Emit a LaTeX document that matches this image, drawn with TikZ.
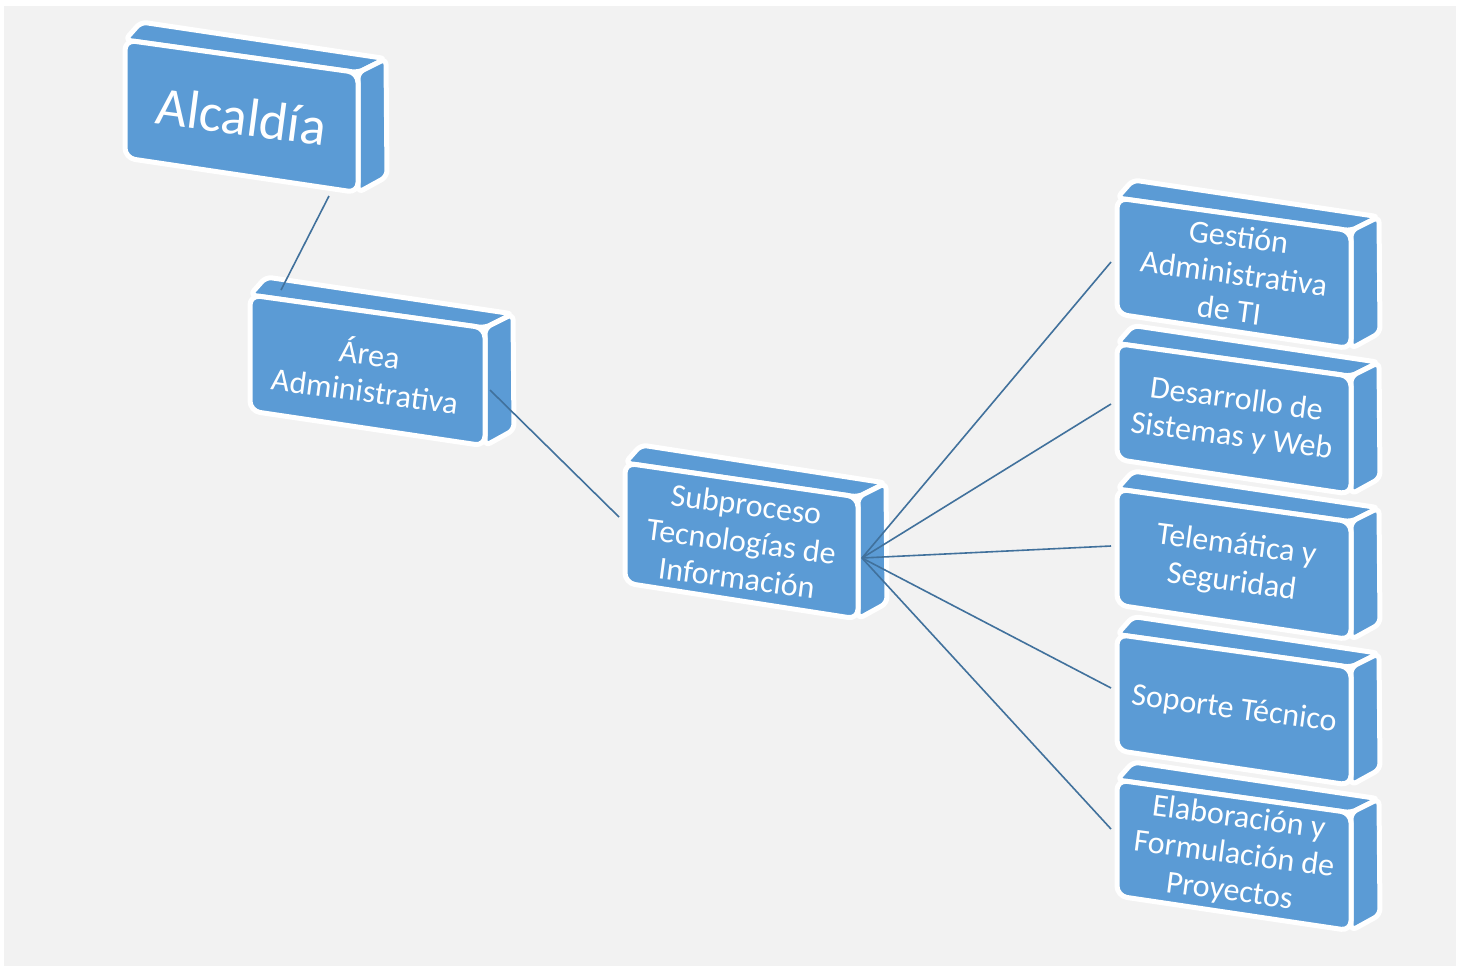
\documentclass[tikz,border=0pt]{standalone}
\usepackage{fontspec}
\setmainfont{Carlito}
\usetikzlibrary{calc}
\definecolor{boxblue}{HTML}{5B9BD5}
\definecolor{linkblue}{HTML}{41719C}
\definecolor{bggray}{HTML}{F2F2F2}
\tikzset{
  boxface/.style={fill=boxblue, draw=white, line width=5pt, rounded corners=6pt, line join=round},
  boxtext/.style={text=white, align=center, rotate=-7.5, font=\fontsize{32}{37}\selectfont, inner sep=0pt},
  linkline/.style={draw=linkblue, line width=1.6pt},
}
% #1 name, #2 x, #3 y, #4 w, #5 h, #6 slope, #7 text, #8 extra style
\newcommand\drawbox[8]{%
  \coordinate (#1-tl) at (#2,#3);
  \coordinate (#1-tr) at (#2+#4,#3+#4*#6);
  \coordinate (#1-bl) at (#2,#3+#5);
  \coordinate (#1-br) at (#2+#4,#3+#5+#4*#6+2);
  \path[boxface] (#1-tl) -- (#1-tr) -- ($(#1-tr)+(28,-14)$) -- ($(#1-tl)+(16,-18)$) -- cycle;
  \path[boxface] (#1-tr) -- (#1-br) -- ($(#1-br)+(29,-16)$) -- ($(#1-tr)+(28,-14)$) -- cycle;
  \path[boxface, rounded corners=10pt] (#1-tl) -- (#1-tr) -- (#1-br) -- (#1-bl) -- cycle;
  \node[boxtext, #8] (#1) at ($(#1-tl)!0.5!(#1-br)$) {#7};
}
\begin{document}
\begin{tikzpicture}[x=1pt, y=-1pt]
\useasboundingbox (0,0) rectangle (1464,969);
\fill[white] (0,0) rectangle (1464,969);
\fill[bggray] (4,6) rectangle (1456,966);

\drawbox{alc}{125}{40}{233}{118}{0.14}{Alcaldía}{font=\fontsize{54}{60}\selectfont}
\drawbox{area}{250}{295}{235}{116}{0.14}{Área\\Administrativa}{}
\drawbox{sub}{625}{463}{233}{120}{0.146}{Subproceso\\Tecnologías de\\Información}{}
\drawbox{ges}{1117}{198}{234}{116}{0.14}{Gestión\\Administrativa\\de TI}{}
\drawbox{des}{1117}{343.5}{234}{116}{0.14}{Desarrollo de\\Sistemas y Web}{}
\drawbox{tel}{1117}{489}{234}{116}{0.14}{Telemática y\\Seguridad}{}
\drawbox{sop}{1117}{634.5}{234}{116}{0.14}{Soporte Técnico}{}
\drawbox{ela}{1117}{780}{234}{116}{0.14}{Elaboración y\\Formulación de\\Proyectos}{}

\coordinate (alc-out) at (329,196);
\coordinate (area-in) at (281,290);
\coordinate (area-out) at (490,390);
\coordinate (sub-in) at (619,517);
\coordinate (sub-out) at (862,558);
\coordinate (ges-in) at (1111,262);
\coordinate (des-in) at (1111,404);
\coordinate (tel-in) at (1111,546);
\coordinate (sop-in) at (1111,688);
\coordinate (ela-in) at (1111,829);

\draw[linkline] (alc-out) -- (area-in);
\draw[linkline] (area-out) -- (sub-in);
\draw[linkline] (sub-out) -- (ges-in);
\draw[linkline] (sub-out) -- (des-in);
\draw[linkline] (sub-out) -- (tel-in);
\draw[linkline] (sub-out) -- (sop-in);
\draw[linkline] (sub-out) -- (ela-in);
\end{tikzpicture}
\end{document}
